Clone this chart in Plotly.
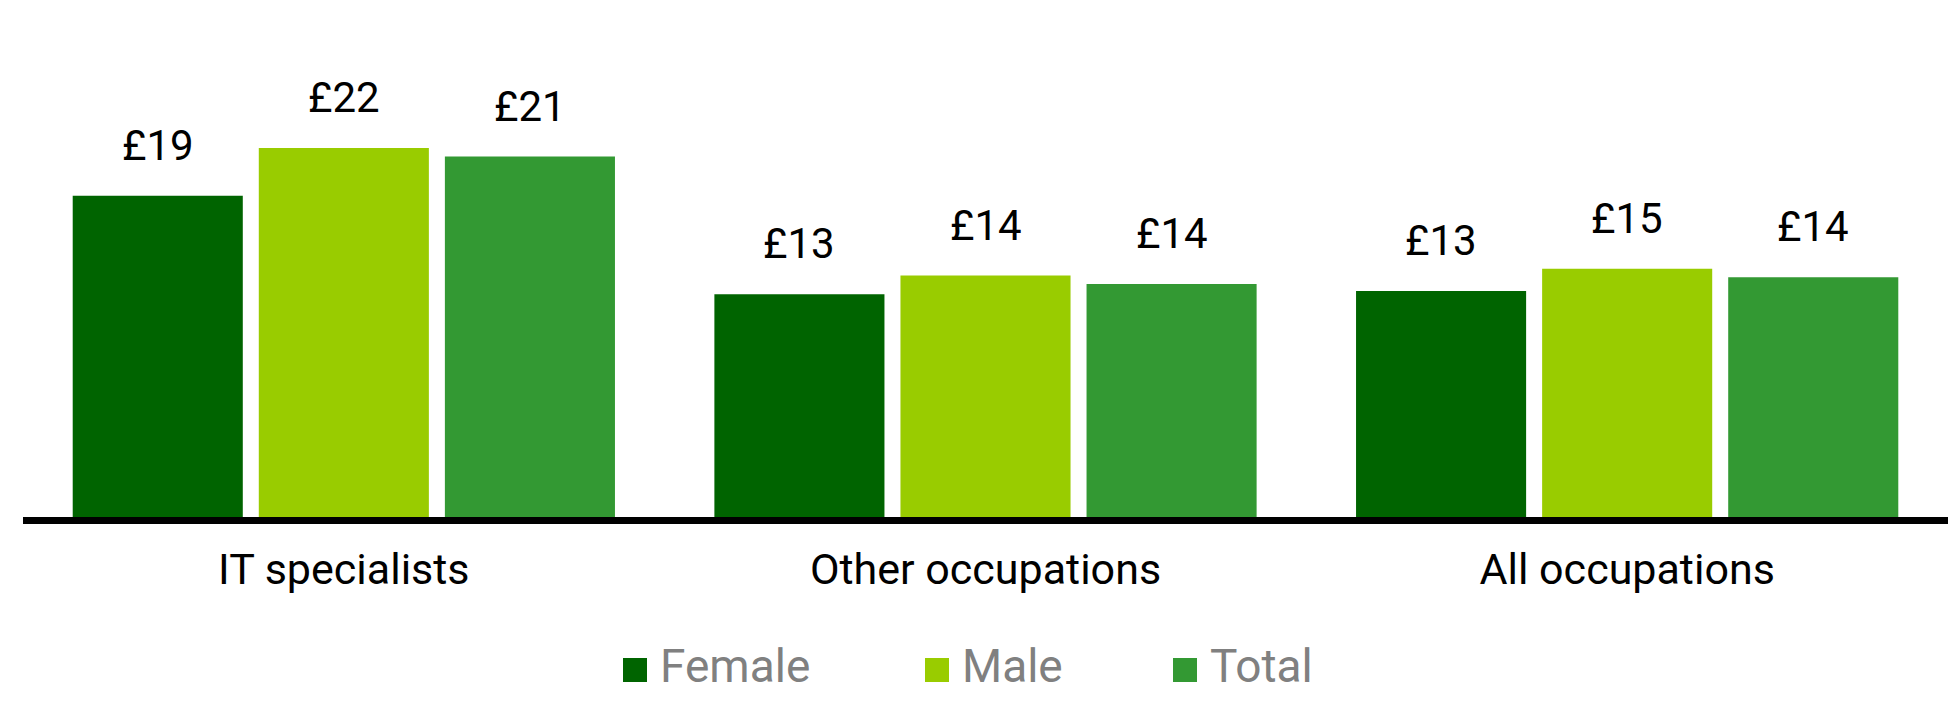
import plotly.graph_objects as go

categories = ["IT specialists", "Other occupations", "All occupations"]
series_names = ["Female", "Male", "Total"]
female = [18.9, 13.1, 13.3]
male = [21.7, 14.2, 14.6]
total = [21.2, 13.7, 14.1]
series_values = [female, male, total]
colors = ["#006400", "#99CC00", "#339933"]

FONT = "Roboto, 'DejaVu Sans', sans-serif"
W, H = 1949, 715
ML, MR, MT, MB = 23, 1, 20, 198
PX_PER_UNIT = 17.0
plot_h = H - MT - MB
plot_w = W - ML - MR
y_max = plot_h / PX_PER_UNIT

fig = go.Figure()
for name, vals, col in zip(series_names, series_values, colors):
    fig.add_trace(go.Bar(
        x=categories, y=vals, name=name,
        marker=dict(color=col, line=dict(width=0)),
        showlegend=False, hoverinfo="x+y+name",
    ))

# value labels above bars
slot_px = plot_w / len(categories) * (1 - 0.13) / len(series_names)
for i, vals in enumerate(series_values):
    for cat, v in zip(categories, vals):
        fig.add_annotation(
            x=cat, y=v, xref="x", yref="y",
            text=f"£{v:.0f}", showarrow=False,
            xanchor="center", yanchor="bottom",
            xshift=(i - 1) * slot_px, yshift=24,
            font=dict(family=FONT, size=42, color="#000000"),
        )

# custom legend (squares + labels)
legend_sq_x = [623, 925, 1173]
legend_y_center = 670
sq = 24
for name, col, lx in zip(series_names, colors, legend_sq_x):
    x0 = (lx - ML) / plot_w
    x1 = (lx + sq - ML) / plot_w
    y0 = (H - MB - (legend_y_center + sq / 2)) / plot_h
    y1 = (H - MB - (legend_y_center - sq / 2)) / plot_h
    fig.add_shape(type="rect", xref="paper", yref="paper",
                  x0=x0, x1=x1, y0=y0, y1=y1,
                  fillcolor=col, line=dict(width=0))
    fig.add_annotation(
        x=(lx + sq + 11 - ML) / plot_w, y=(H - MB - 666) / plot_h,
        xref="paper", yref="paper", text=name, showarrow=False,
        xanchor="left", yanchor="middle",
        font=dict(family=FONT, size=46, color="#808080"),
    )

fig.update_layout(
    width=W, height=H,
    margin=dict(l=ML, r=MR, t=MT, b=MB),
    paper_bgcolor="white", plot_bgcolor="white",
    barmode="group", bargap=0.13, bargroupgap=0.086,
    showlegend=False,
    font=dict(family=FONT),
    xaxis=dict(
        showline=True, linecolor="#000000", linewidth=7,
        showgrid=False, ticks="", zeroline=False,
        tickfont=dict(family=FONT, size=43, color="#000000"),
        ticklabelstandoff=8, automargin=False,
    ),
    yaxis=dict(
        range=[0, y_max], visible=False, showgrid=False, zeroline=False,
        automargin=False,
    ),
)

fig.write_html(
    "out.html",
    config={"displayModeBar": False},
    post_script="document.body.style.margin='0';document.body.style.overflow='hidden';",
)
